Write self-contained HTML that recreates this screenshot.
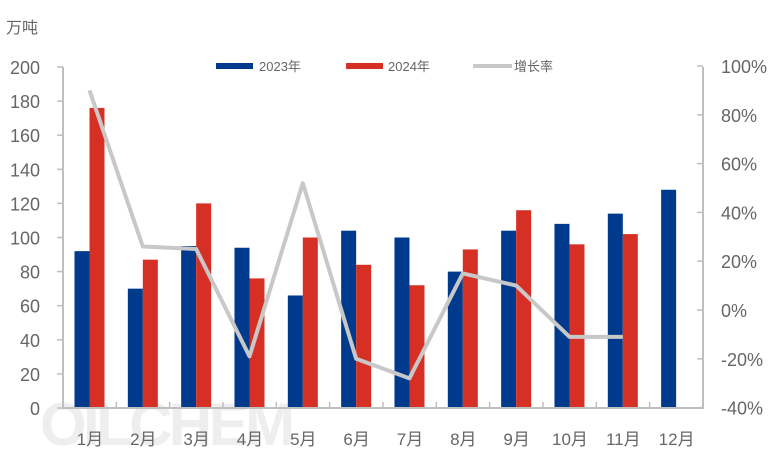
<!DOCTYPE html><html><head><meta charset="utf-8"><style>body{margin:0;background:#fff}svg{display:block}text{font-family:"Liberation Sans","Noto Sans CJK SC",sans-serif;fill:#666}</style></head><body>
<svg width="780" height="464" viewBox="0 0 780 464" xmlns="http://www.w3.org/2000/svg">
<text x="6" y="33" font-size="16">万吨</text>
<text x="40" y="445" font-size="60" font-weight="bold" style="fill:#e8e8e8" opacity="0.7" textLength="255">OILCHEM</text>
<g id="bars"></g>
<g stroke="#bfbfbf" stroke-width="2" fill="none">
<path d="M63 67V408H703V67"/>
</g>
<g id="ticks" stroke="#bfbfbf" stroke-width="1.5"></g>
<g font-size="18" text-anchor="end" id="yl"></g>
<g font-size="18" id="yr"></g>
<g font-size="17" text-anchor="middle" id="xl"></g>
<rect x="216" y="63" width="37" height="6" fill="#003a8c"/><text x="259" y="71" font-size="13">2023年</text>
<rect x="346" y="63" width="37" height="6" fill="#d63024"/><text x="388" y="71" font-size="13">2024年</text>
<line x1="473" y1="66" x2="512" y2="66" stroke="#c8c8c8" stroke-width="4"/><text x="514" y="71" font-size="13">增长率</text>
<polyline id="ln" fill="none" stroke="#c8c8c8" stroke-width="4" stroke-linejoin="round"/>
<script>
var a=[92,70,95,94,66,104,100,80,104,108,114,128],b=[176,87,120,76,100,84,72,93,116,96,102];
var g=[90,26,25,-19,52,-20,-28,15,10,-11,-11];
var ns="http://www.w3.org/2000/svg";function el(p,t,o,tx){var e=document.createElementNS(ns,t);for(var k in o)e.setAttribute(k,o[k]);if(tx!==undefined)e.textContent=String(tx);document.getElementById(p).appendChild(e);}
var pts=[];
for(var i=0;i<12;i++){var s=63+53.33*i;
el("bars","rect",{x:s+11.5,y:408-a[i]*1.705,width:15,height:a[i]*1.705,fill:"#003a8c"});
if(i<11){el("bars","rect",{x:s+26.5,y:408-b[i]*1.705,width:15,height:b[i]*1.705,fill:"#d63024"});
pts.push((s+26.5)+","+(310-g[i]*2.44));}
el("xl","text",{x:s+27,y:445},(i+1)+"月");
if(i>0)el("ticks","line",{x1:s,y1:402,x2:s,y2:408});}
document.getElementById("ln").setAttribute("points",pts.join(" "));
for(var v=0;v<=200;v+=20){var y=408-v*1.705;el("yl","text",{x:40,y:y+7},v);el("ticks","line",{x1:57,y1:y,x2:63,y2:y});}
for(var p=-40;p<=100;p+=20){var y=310-p*2.44;el("yr","text",{x:721,y:y+7},p+"%");el("ticks","line",{x1:697,y1:y,x2:703,y2:y});}
</script>
</svg></body></html>
